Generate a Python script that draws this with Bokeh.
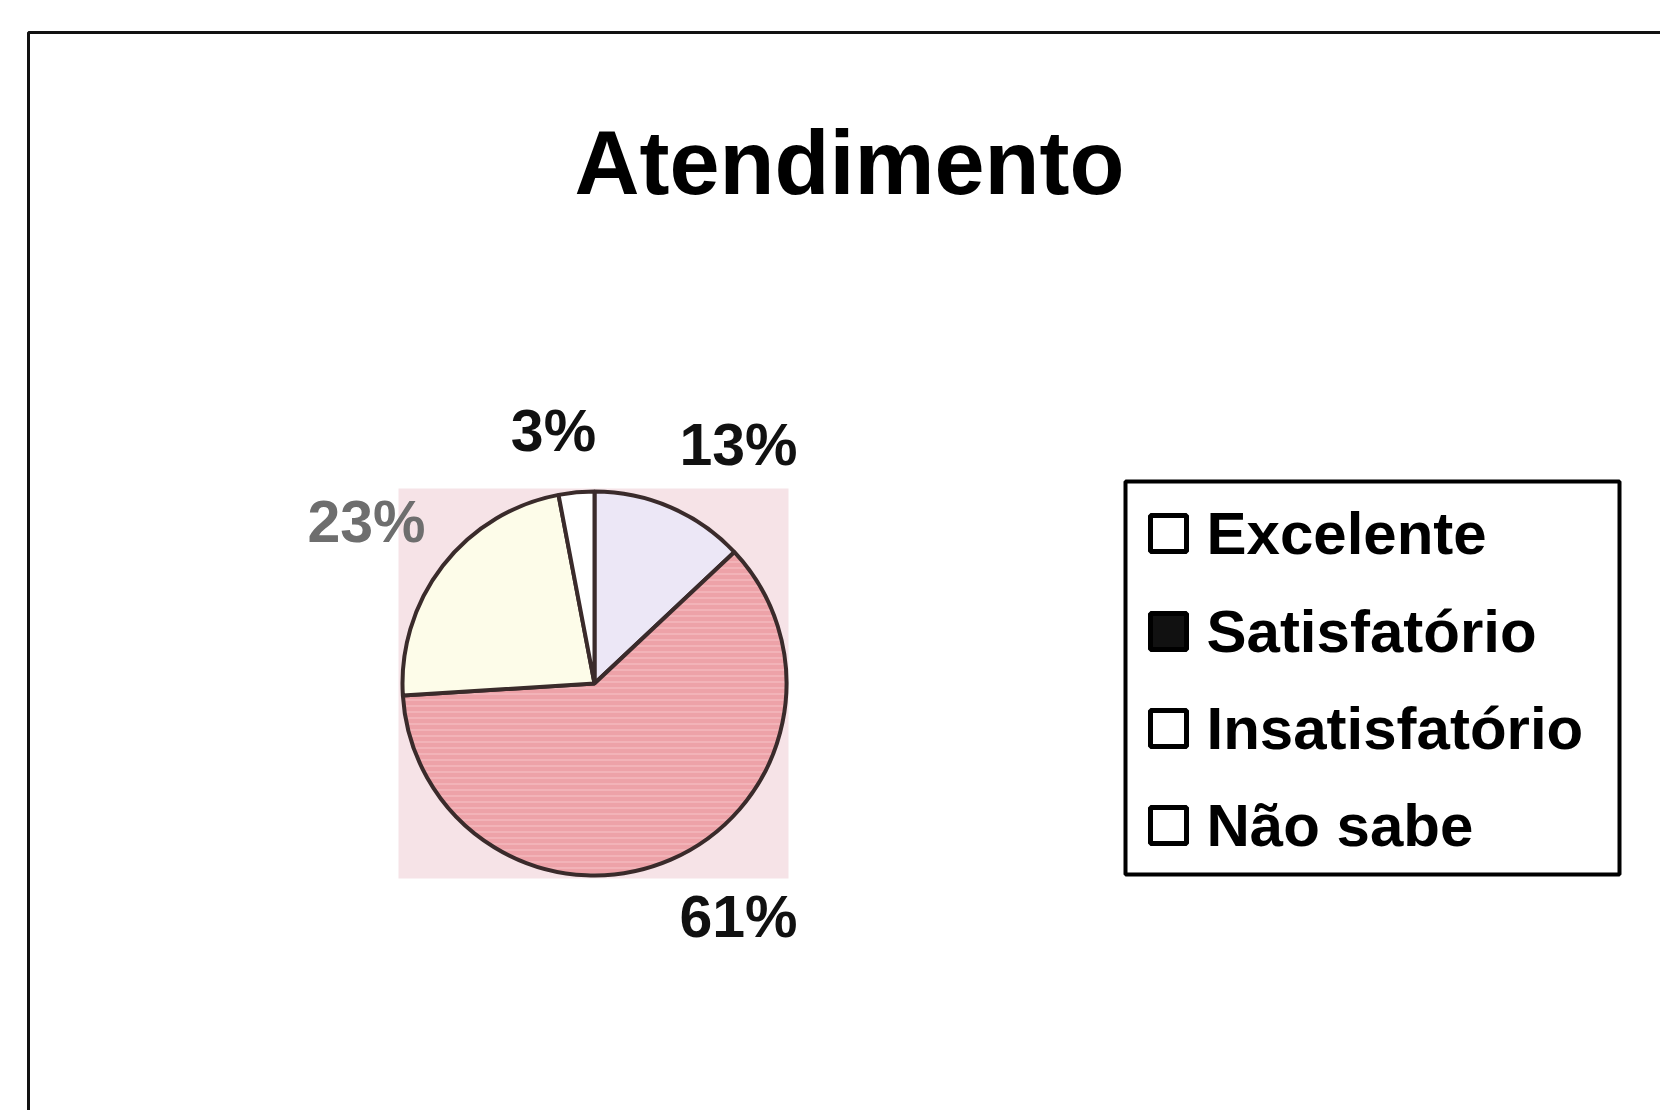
import numpy as np
from bokeh.plotting import figure
from bokeh.models import Range1d, ColumnDataSource
from bokeh.core.properties import value
from bokeh.embed import file_html
from bokeh.resources import INLINE

# ---- data ----
title = "Atendimento"
categories = ["Excelente", "Satisfatório", "Insatisfatório", "Não sabe"]
percents = [13, 61, 23, 3]
pct_labels = ["13%", "61%", "23%", "3%"]

# ---- styles / layout (screen px, y measured from the top) ----
slice_colors = ["#ece7f6", "#eda2a8", "#fdfce9", "#ffffff"]
slice_hatch = [" ", "-", " ", " "]
label_colors = ["#111111", "#111111", "#6e6e6e", "#111111"]
label_pos = [(738, 444), (738, 916), (366, 521), (553, 430)]
swatch_fill = ["#ffffff", "#111111", "#ffffff", "#ffffff"]

W, H = 1660, 1110
FONT = value("Liberation Sans")


def Y(sy):
    return H - sy


p = figure(width=W, height=H, x_range=Range1d(0, W), y_range=Range1d(0, H),
           output_backend="svg", toolbar_location=None, min_border=0)
p.axis.visible = False
p.grid.visible = False
p.outline_line_color = None
p.background_fill_color = "white"
p.border_fill_color = "white"

# outer frame (extends beyond right/bottom of picture)
p.line(x=[28, 28, 1700], y=[Y(1200), Y(32), Y(32)], line_color="#111111", line_width=3)

# title
p.text(x=[849], y=[Y(162)], text=[title], text_font=FONT, text_font_style="bold",
       text_font_size=value("90px"), text_align="center", text_baseline="middle",
       text_color="#000000")

# pie
cx, cy, r = 594, 683, 192
# pink backdrop square behind the pie
p.rect(x=[cx - 1], y=[Y(cy)], width=390, height=390, fill_color="#f6e3e7",
       line_color=None)

vals = np.array(percents, dtype=float)
frac = vals / vals.sum()
cum = np.concatenate([[0.0], np.cumsum(frac)])
start = np.pi / 2 - 2 * np.pi * cum[:-1]
end = np.pi / 2 - 2 * np.pi * cum[1:]
src = ColumnDataSource(dict(start=start, end=end, color=slice_colors, hatch=slice_hatch,
                            x=[cx] * 4, y=[Y(cy)] * 4))
p.wedge(x="x", y="y", radius=r, start_angle="start", end_angle="end",
        direction="clock", fill_color="color", line_color="#3a2b2b",
        hatch_pattern="hatch", hatch_color="#f6c2c6", hatch_scale=6, hatch_weight=1.5,
        hatch_alpha=0.7, line_width=4, source=src)

# percent labels
lsrc = ColumnDataSource(dict(x=[q[0] for q in label_pos], y=[Y(q[1]) for q in label_pos],
                             t=pct_labels, c=label_colors))
p.text(x="x", y="y", text="t", text_color="c", source=lsrc, text_font=FONT,
       text_font_style="bold", text_font_size=value("59px"), text_align="center",
       text_baseline="middle")

# legend box
lx0, ly0, lx1, ly1 = 1125, 481, 1619, 874
p.rect(x=[(lx0 + lx1) / 2], y=[Y((ly0 + ly1) / 2)], width=lx1 - lx0, height=ly1 - ly0,
       fill_color="white", line_color="#000000", line_width=4)
row_y = [533, 631, 728, 825]
p.rect(x=[1168] * 4, y=[Y(v) for v in row_y], width=36, height=36,
       fill_color=swatch_fill, line_color="#000000", line_width=5)
p.text(x=[1206] * 4, y=[Y(v) for v in row_y], text=categories, text_font=FONT,
       text_font_style="bold", text_font_size=value("60px"), text_align="left",
       text_baseline="middle", text_color="#000000")

open("out.html", "w").write(file_html(p, INLINE))
